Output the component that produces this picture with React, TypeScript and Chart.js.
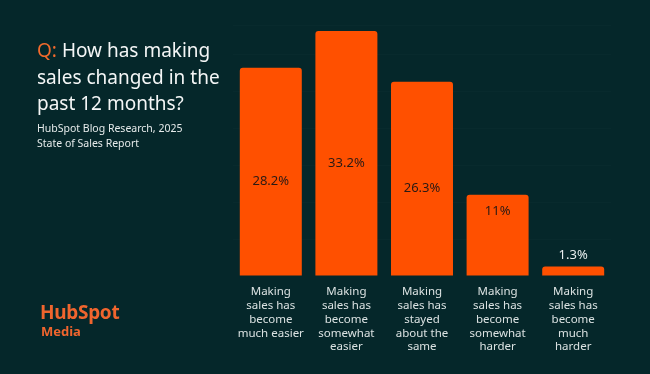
import React, { useEffect, useRef } from "react";
import { Chart, registerables } from "chart.js";

Chart.register(...registerables);

const categories: string[][] = [
  ["Making", "sales has", "become", "much easier"],
  ["Making", "sales has", "become", "somewhat", "easier"],
  ["Making", "sales has", "stayed", "about the", "same"],
  ["Making", "sales has", "become", "somewhat", "harder"],
  ["Making", "sales has", "become", "much", "harder"],
];
const values: number[] = [28.2, 33.2, 26.3, 11, 1.3];
const valueLabels: string[] = ["28.2%", "33.2%", "26.3%", "11%", "1.3%"];

const BG = "#05272a";
const ORANGE = "#ff5000";
const FONT = "'Noto Sans', 'DejaVu Sans', sans-serif";

const labelPlugin = {
  id: "valueLabels",
  afterDatasetsDraw(chart: any) {
    const ctx = chart.ctx;
    const meta = chart.getDatasetMeta(0);
    ctx.save();
    ctx.font = `13px ${FONT}`;
    ctx.textAlign = "center";
    ctx.textBaseline = "middle";
    meta.data.forEach((bar: any, i: number) => {
      const h = bar.base - bar.y;
      let ty: number;
      let color = "#2a1a14";
      if (h > 150) ty = (bar.y + bar.base) / 2 + 10;
      else if (h > 40) ty = bar.y + 17;
      else {
        ty = bar.y - 11;
        color = "#e8eeee";
      }
      ctx.fillStyle = color;
      ctx.fillText(valueLabels[i], bar.x, ty);
    });
    ctx.restore();
  },
};

export default function App() {
  const ref = useRef<HTMLCanvasElement>(null);
  useEffect(() => {
    document.body.style.margin = "0";
    document.body.style.background = BG;
    const chart = new Chart(ref.current!, {
      type: "bar",
      data: {
        labels: categories,
        datasets: [
          {
            data: values,
            backgroundColor: ORANGE,
            borderRadius: 3,
            borderSkipped: "bottom",
            barPercentage: 0.82,
            categoryPercentage: 1,
          },
        ],
      },
      options: {
        animation: false,
        responsive: false,
        devicePixelRatio: 1,
        layout: { padding: { left: 233, right: 39, top: 25, bottom: 11 } },
        plugins: { legend: { display: false }, tooltip: { enabled: false } },
        scales: {
          x: {
            grid: { display: false, drawTicks: false },
            border: { display: false },
            ticks: {
              color: "#dbe2e2",
              font: { family: FONT, size: 11.5, lineHeight: 1.2 },
              padding: 9,
              autoSkip: false,
              maxRotation: 0,
            },
          },
          y: {
            min: 0,
            max: 34,
            grid: {
              color: (c: any) => (c.tick && c.tick.value === 0 ? "rgba(0,0,0,0)" : "rgba(255,255,255,0.015)"),
              drawTicks: false,
            },
            border: { display: false },
            ticks: { display: false, stepSize: 5 },
          },
        },
      },
      plugins: [labelPlugin],
    });
    return () => chart.destroy();
  }, []);

  return (
    <div
      style={{
        position: "absolute",
        left: 0,
        top: 0,
        width: 650,
        height: 374,
        background: BG,
        overflow: "hidden",
        fontFamily: FONT,
      }}
    >
      <canvas ref={ref} width={650} height={374} style={{ position: "absolute", left: 0, top: 0 }} />
      <div
        style={{
          position: "absolute",
          left: 37,
          top: 37,
          width: 200,
          fontSize: 19,
          lineHeight: "26.5px",
          color: "#f4f6f6",
        }}
      >
        <span style={{ color: "#f26a2c" }}>Q:</span> How has making
        <br />
        sales changed in the
        <br />
        past 12 months?
      </div>
      <div
        style={{
          position: "absolute",
          left: 37,
          top: 120.5,
          fontSize: 10.5,
          lineHeight: "15px",
          color: "#e6ebeb",
        }}
      >
        HubSpot Blog Research, 2025
        <br />
        State of Sales Report
      </div>
      <div
        style={{
          position: "absolute",
          left: 40,
          top: 300,
          fontSize: 19,
          fontWeight: 700,
          lineHeight: "24px",
          color: "#f0652e",
          letterSpacing: "-0.3px",
        }}
      >
        HubSpot
      </div>
      <div
        style={{
          position: "absolute",
          left: 41,
          top: 323,
          fontSize: 13,
          fontWeight: 700,
          lineHeight: "16px",
          color: "#f0652e",
        }}
      >
        Media
      </div>
    </div>
  );
}
